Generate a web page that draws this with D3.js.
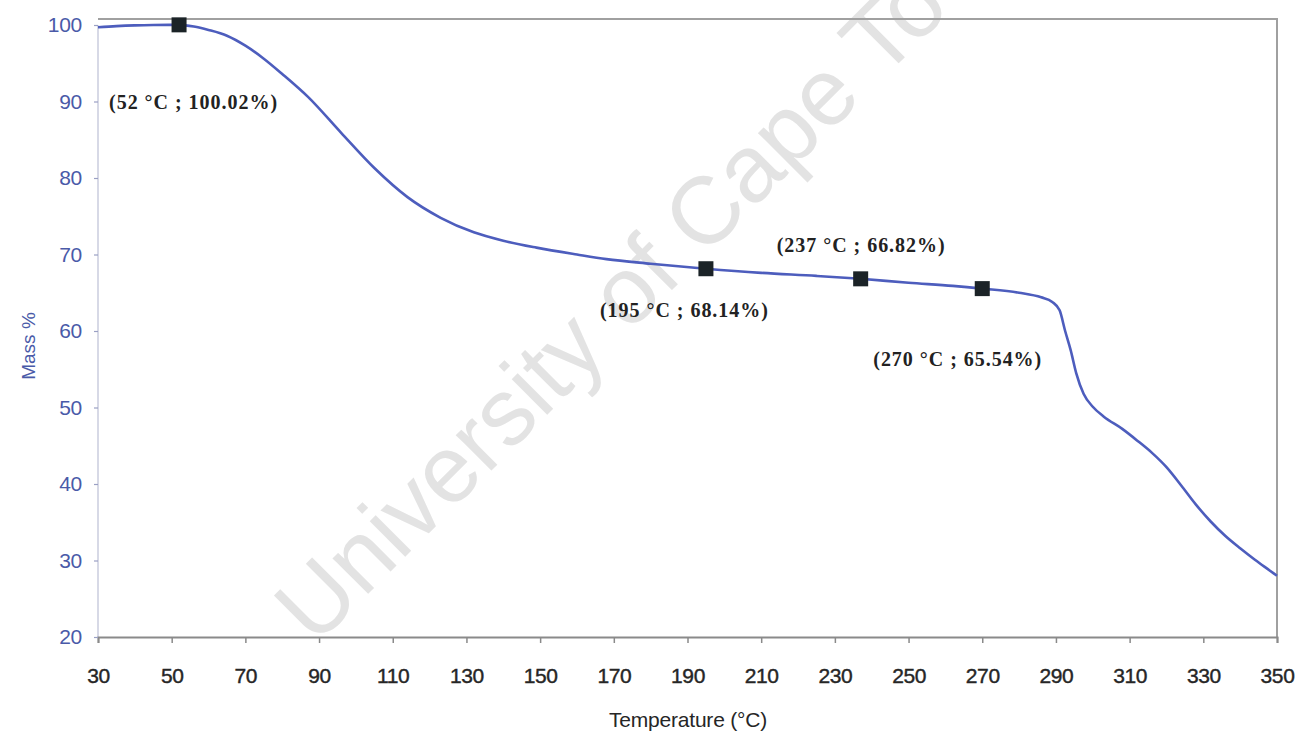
<!DOCTYPE html>
<html>
<head>
<meta charset="utf-8">
<script src="https://cdn.jsdelivr.net/npm/d3@7"></script>
<style>
  html, body { margin: 0; padding: 0; background: #fff; }
  svg { display: block; }
</style>
</head>
<body>
<svg id="chart" width="1298" height="731"></svg>
<script>
// TGA curve: temperature (°C) vs remaining mass (%)
const temperature = [30, 35, 40, 45, 52, 56, 60, 65, 70, 75, 80, 87, 96, 105, 114, 123, 132, 140, 149, 160, 168, 180, 195, 210, 225, 237, 250, 262, 270, 280, 286, 289, 291, 292.5, 294, 295.5, 297.5, 300, 303, 308, 312, 316, 320, 324, 328, 332, 336, 340, 344, 348, 350];
const massPct     = [99.7, 99.85, 99.95, 100.0, 100.02, 99.8, 99.35, 98.6, 97.3, 95.6, 93.6, 90.6, 85.9, 81.3, 77.5, 74.8, 72.9, 71.8, 70.9, 70.0, 69.4, 68.8, 68.14, 67.6, 67.2, 66.82, 66.3, 65.9, 65.54, 65.0, 64.4, 63.8, 62.7, 60.0, 57.5, 54.5, 51.8, 50.1, 48.8, 47.2, 45.7, 44.1, 42.2, 39.8, 37.3, 35.1, 33.2, 31.6, 30.1, 28.7, 28.0];

// Marked points and their labels
const markTemp  = [52, 195, 237, 270];
const markMass  = [100.02, 68.14, 66.82, 65.54];
const markLabel = ["(52 °C ; 100.02%)", "(195 °C ; 68.14%)", "(237 °C ; 66.82%)", "(270 °C ; 65.54%)"];

// Axis ticks
const xTicks = [30, 50, 70, 90, 110, 130, 150, 170, 190, 210, 230, 250, 270, 290, 310, 330, 350];
const yTicks = [20, 30, 40, 50, 60, 70, 80, 90, 100];

const svg = d3.select("#chart");

const x = d3.scaleLinear().domain([30, 350]).range([98, 1277]);
const y = d3.scaleLinear().domain([20, 100]).range([637, 25]);

const frameTop = 19;

// Watermark
svg.append("text")
  .attr("transform", "translate(315,647) rotate(-45)")
  .attr("font-family", "Liberation Sans, Arial, sans-serif")
  .attr("font-size", 95)
  .attr("fill", "#e3e3e3")
  .text("University of Cape Town");

// Plot frame: top and right edges
svg.append("path")
  .attr("d", `M${x(30)},${frameTop}H${x(350)}V${y(20)}`)
  .attr("fill", "none")
  .attr("stroke", "#a0a0a0")
  .attr("stroke-width", 2);

// Left axis line (faint)
svg.append("line")
  .attr("x1", x(30)).attr("x2", x(30))
  .attr("y1", y(100)).attr("y2", y(20))
  .attr("stroke", "#bcc0d6")
  .attr("stroke-width", 1.2);

// Bottom axis
const xAxis = d3.axisBottom(x).tickValues(xTicks).tickSize(6).tickPadding(25).tickFormat(d3.format("d"));
const gx = svg.append("g").attr("transform", `translate(0,${y(20)})`).call(xAxis);
gx.select(".domain").attr("stroke", "#8a8a8a").attr("stroke-width", 2);
gx.selectAll(".tick line").attr("stroke", "#8a8a8a").attr("stroke-width", 1.5);
gx.selectAll(".tick text")
  .attr("font-family", "Liberation Sans, Arial, sans-serif")
  .attr("font-size", 21)
  .attr("letter-spacing", -0.4)
  .attr("fill", "#262626")
  .attr("stroke", "#262626")
  .attr("stroke-width", 0.4);

// Left axis ticks & labels
const yAxis = d3.axisLeft(y).tickValues(yTicks).tickSize(4).tickPadding(12).tickFormat(d3.format("d"));
const gy = svg.append("g").attr("transform", `translate(${x(30)},0)`).call(yAxis);
gy.select(".domain").remove();
gy.selectAll(".tick line").attr("stroke", "#9aa0c4").attr("stroke-width", 1.2);
gy.selectAll(".tick text")
  .attr("font-family", "Liberation Sans, Arial, sans-serif")
  .attr("font-size", 21)
  .attr("letter-spacing", -0.3)
  .attr("fill", "#4a5aa8");

// Axis titles
svg.append("text")
  .attr("transform", "translate(35,346) rotate(-90)")
  .attr("text-anchor", "middle")
  .attr("font-family", "Liberation Sans, Arial, sans-serif")
  .attr("font-size", 19)
  .attr("fill", "#4a5aa8")
  .text("Mass %");

svg.append("text")
  .attr("x", 688).attr("y", 727)
  .attr("text-anchor", "middle")
  .attr("font-family", "Liberation Sans, Arial, sans-serif")
  .attr("font-size", 21)
  .attr("letter-spacing", -0.2)
  .attr("fill", "#262626")
  .text("Temperature (°C)");

// Mass curve
const curveData = temperature.map((t, i) => [t, massPct[i]]);
const line = d3.line()
  .x(d => x(d[0]))
  .y(d => y(d[1]))
  .curve(d3.curveMonotoneX);

svg.append("path")
  .datum(curveData)
  .attr("d", line)
  .attr("fill", "none")
  .attr("stroke", "#4d5dbd")
  .attr("stroke-width", 2.6)
  .attr("stroke-linejoin", "round");

// Square markers
const marks = markTemp.map((t, i) => ({ t, m: markMass[i], label: markLabel[i] }));
const sz = 15;
svg.selectAll("rect.mark")
  .data(marks)
  .enter().append("rect")
  .attr("class", "mark")
  .attr("x", d => x(d.t) - sz / 2)
  .attr("y", d => y(d.m) - sz / 2)
  .attr("width", sz)
  .attr("height", sz)
  .attr("fill", "#1b2327");

// Point labels (offsets from each marker)
const labelOffset = [[-70, 84], [-106, 48], [-84, -27], [-109, 77]];
svg.selectAll("text.mark-label")
  .data(marks)
  .enter().append("text")
  .attr("class", "mark-label")
  .attr("x", (d, i) => x(d.t) + labelOffset[i][0])
  .attr("y", (d, i) => y(d.m) + labelOffset[i][1])
  .attr("font-family", "Liberation Serif, Times New Roman, serif")
  .attr("font-size", 20)
  .attr("font-weight", "bold")
  .attr("textLength", 168)
  .attr("lengthAdjust", "spacing")
  .attr("fill", "#222")
  .text(d => d.label);
</script>
</body>
</html>
